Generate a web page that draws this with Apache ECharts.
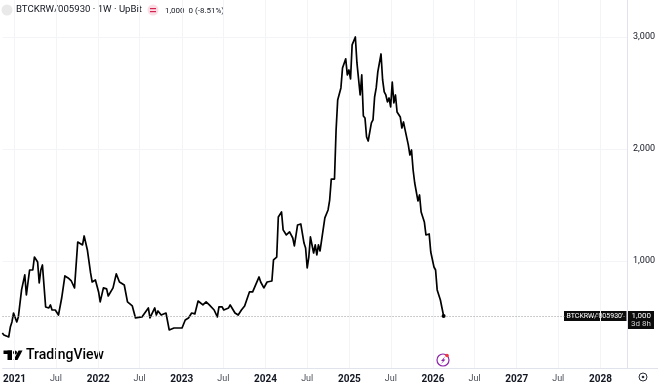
<!DOCTYPE html>
<html><head><meta charset="utf-8">
<style>html,body{margin:0;padding:0;background:#fff}#c{width:658px;height:386px}</style>
<script src="https://cdn.jsdelivr.net/npm/echarts@6/dist/echarts.min.js"></script>
</head><body><div id="c"></div>
<script>
// Weeks counted from the week of 2021-01-04
var weeks = [-8,-7,-4,-3,-2,-1,1,2,4,6,7,9,11,12,14,15,16,17,19,20,21,22,23,25,27,29,31,33,35,36,37,39,42,43,45,47,48,50,52,53,55,57,58,61,63,64,65,68,70,73,75,79,83,84,87,88,89,91,94,96,99,104,106,108,110,112,114,117,119,121,124,126,127,129,130,133,134,137,139,141,143,144,146,148,149,152,153,155,157,160,161,163,164,166,167,169,171,173,174,176,178,180,181,182,183,184,186,187,188,189,190,191,193,194,195,196,197,199,200,201,203,204,206,207,208,209,210,212,213,215,216,217,218,219,220,222,223,224,225,226,227,228,229,230,231,232,233,234,235,236,237,238,240,241,242,243,245,246,247,248,249,250,251,252,253,255,256,258,259,261,262,263,265,266,267];
var prices = [357,339,321,410,455,535,455,500,741,875,696,919,919,1035,991,803,919,964,589,598,580,607,562,562,517,669,866,848,821,812,759,1169,1143,1223,1098,893,812,830,723,634,759,750,687,759,884,893,812,785,634,598,491,500,580,491,580,517,553,517,535,384,401,401,473,491,535,527,642,607,634,607,562,500,589,589,562,580,607,535,517,562,598,589,723,723,732,857,812,759,812,821,1009,1035,1393,1437,1277,1232,1259,1205,1134,1321,1330,1160,1116,937,1035,1214,1071,1143,1054,1143,1089,1187,1384,1384,1455,1544,1731,1731,2170,2437,2545,2723,2804,2661,2705,2625,2929,3000,2768,2482,2661,2295,2277,2107,2071,2232,2259,2464,2545,2688,2688,2848,2616,2509,2482,2420,2455,2375,2598,2411,2482,2330,2286,2187,2241,2170,2036,1946,1991,1812,1696,1705,1536,1589,1437,1348,1232,1241,1080,946,919,741,651,580,509];
var yTicks = [1000,2000,3000];
var xTicks = ['2021-01-01','2021-07-01','2022-01-01','2022-07-01','2023-01-01','2023-07-01','2024-01-01','2024-07-01','2025-01-01','2025-07-01','2026-01-01','2026-07-01','2027-01-01','2027-07-01','2028-01-01'];
var xRange = ['2020-11-10','2028-04-26'];
var lastPrice = 509;
var title = 'BTCKRW/005930 · 1W · UpBit';
var quote = '1,000  0 (-8.51%)';
var tagName = "BTCKRW/'005930'";
var tagValue = '1,000';
var tagTime = '3d 8h';

var W0 = Date.UTC(2021,0,4), WEEK = 7*864e5;
function ms(s){return new Date(s+'T00:00:00Z').getTime();}
var line = weeks.map(function(w,i){return [W0+w*WEEK,prices[i]];});
var xVals = xTicks.map(ms);
var font = 'Roboto';

var chart = echarts.init(document.getElementById('c'),null,{renderer:'canvas'});
chart.setOption({
  animation:false, backgroundColor:'#fff',
  grid:{left:0,right:30.5,top:0,bottom:18},
  xAxis:{type:'value',min:ms(xRange[0]),max:ms(xRange[1]),
    axisLine:{onZero:false,lineStyle:{color:'#e0e3eb',width:1}},
    axisTick:{show:false,customValues:xVals},
    splitLine:{show:true,lineStyle:{color:'#f3f4f8',width:1}},
    axisLabel:{customValues:xVals,margin:6,fontFamily:font,fontSize:9,hideOverlap:false,
      formatter:function(v){var d=new Date(v);return d.getUTCMonth()===0?'{y|'+d.getUTCFullYear()+'}':'{m|Jul}';},
      rich:{y:{fontFamily:font,fontSize:10,fontWeight:700,color:'#131722'},m:{fontFamily:font,fontSize:9,color:'#4a4e59'}}}},
  yAxis:{type:'value',position:'right',min:44,max:3330,
    axisLine:{show:true,lineStyle:{color:'#e0e3eb',width:1}},
    axisTick:{show:false,customValues:yTicks},
    splitLine:{show:true,lineStyle:{color:'#f3f4f8',width:1}},
    axisLabel:{customValues:yTicks,margin:6,fontFamily:font,fontSize:9,color:'#131722',
      formatter:function(v){return v.toLocaleString('en-US');}}},
  series:[{type:'line',data:line,showSymbol:false,smooth:false,
    lineStyle:{color:'#000',width:1.7,join:'round'},
    markLine:{silent:true,symbol:'none',label:{show:false},
      lineStyle:{color:'#9a9a9a',type:[1,2],width:1},data:[{yAxis:lastPrice}]},
    markPoint:{silent:true,symbol:'circle',symbolSize:4,itemStyle:{color:'#000'},label:{show:false},
      data:[{coord:line[line.length-1]}]}}],
  graphic:[
    {type:'rect',shape:{x:627,y:368,width:31,height:1},style:{fill:'#e0e3eb'}},
    {type:'circle',shape:{cx:7,cy:10,r:5.5},style:{fill:'#e9e9ea'}},
    {type:'text',style:{x:16,y:10,text:title,fill:'#131722',fontFamily:font,fontSize:9.6,verticalAlign:'middle'}},
    {type:'circle',shape:{cx:153,cy:10,r:5.5},style:{fill:'#fbdde5'}},
    {type:'rect',shape:{x:150,y:8,width:6,height:1.2},style:{fill:'#d5234f'}},
    {type:'rect',shape:{x:150,y:11,width:6,height:1.2},style:{fill:'#d5234f'}},
    {type:'text',style:{x:165,y:10.5,text:quote,fill:'#131722',fontFamily:font,fontSize:8,verticalAlign:'middle'}},
    {type:'rect',shape:{x:3.5,y:350.5,width:8.5,height:3.5},style:{fill:'#000'}},
    {type:'rect',shape:{x:7.5,y:350.5,width:4.5,height:9.5},style:{fill:'#000'}},
    {type:'circle',shape:{cx:15,cy:352.5,r:2},style:{fill:'#000'}},
    {type:'polygon',shape:{points:[[18.5,350.5],[22.5,350.5],[17.5,360],[13.5,360]]},style:{fill:'#000'}},
    {type:'text',style:{x:26,y:355.5,text:'TradingView',fill:'#000',fontFamily:font,fontWeight:500,fontSize:14,verticalAlign:'middle'}},
    {type:'rect',shape:{x:564,y:311,width:62.5,height:10},style:{fill:'#0b0b0b'}},
    {type:'text',style:{x:566.5,y:316,text:tagName,fill:'#fff',fontFamily:font,fontSize:7,verticalAlign:'middle'}},
    {type:'rect',shape:{x:628,y:311,width:26,height:18},style:{fill:'#0b0b0b'}},
    {type:'text',style:{x:651,y:316,text:tagValue,fill:'#fff',fontFamily:font,fontSize:8,align:'right',verticalAlign:'middle'}},
    {type:'text',style:{x:651,y:324,text:tagTime,fill:'#d0d0d0',fontFamily:font,fontSize:8,align:'right',verticalAlign:'middle'}},
    {type:'circle',shape:{cx:443,cy:360,r:6},style:{fill:'#fff',stroke:'#8e24aa',lineWidth:1.2}},
    {type:'polygon',shape:{points:[[445,356.5],[441,361],[443,361],[441,364],[445.5,359.5],[443.5,359.5]]},style:{fill:'#8e24aa'}},
    {type:'circle',shape:{cx:447,cy:355.5,r:1.8},style:{fill:'#f23645'}},
    {type:'circle',shape:{cx:643,cy:377,r:4},style:{fill:'#fff',stroke:'#2a2e39',lineWidth:1}},
    {type:'circle',shape:{cx:643,cy:377,r:1.3},style:{fill:'#2a2e39'}}
  ]
});
</script></body></html>
